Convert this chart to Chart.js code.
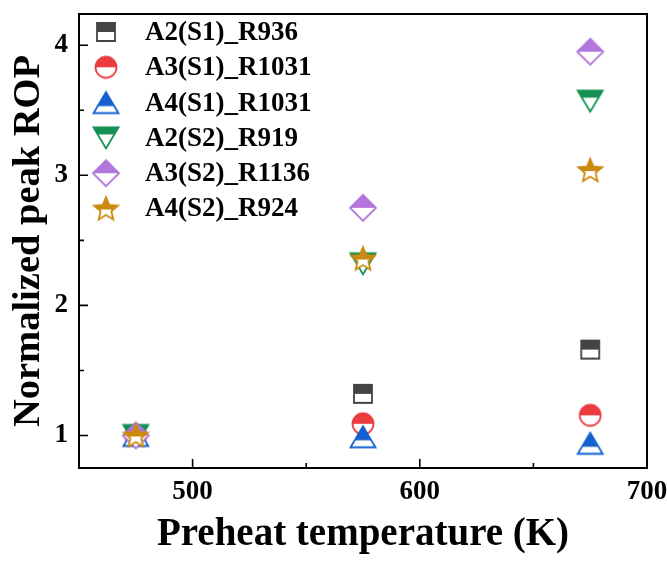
<!DOCTYPE html>
<html>
<head>
<meta charset="utf-8">
<script src="https://cdn.jsdelivr.net/npm/chart.js@4.4.1/dist/chart.umd.min.js"></script>
<style>
  html, body { margin:0; padding:0; background:#fff; }
  #wrap { width:667px; height:561px; }
</style>
</head>
<body>
<div id="wrap"><canvas id="rop" width="667" height="561"></canvas></div>
<script>
const temps = [475, 575, 675];
const seriesNames = ['A2(S1)_R936', 'A3(S1)_R1031', 'A4(S1)_R1031', 'A2(S2)_R919', 'A3(S2)_R1136', 'A4(S2)_R924'];
const ropA2S1 = [1.00, 1.32, 1.66];
const ropA3S1 = [1.00, 1.09, 1.155];
const ropA4S1 = [1.00, 0.99, 0.94];
const ropA2S2 = [1.00, 2.32, 3.57];
const ropA3S2 = [1.00, 2.75, 3.95];
const ropA4S2 = [1.00, 2.36, 3.04];
const xTicks = [500, 600, 700];
const xMinor = [550, 650];
const yTicks = [1, 2, 3, 4];
const yMinor = [1.5, 2.5, 3.5];

const serif = '"Liberation Serif", "Times New Roman", serif';

// half filled marker: top part in colour, bottom part white, colour outline
function marker(shape, color) {
  const c = document.createElement('canvas');
  c.width = 30; c.height = 30;
  const ctx = c.getContext('2d');
  const cx = 15, cy = 15;
  let split = cy;
  const path = () => {
    ctx.beginPath();
    if (shape === 'square') {
      ctx.rect(cx - 9, cy - 9, 18, 18);
    } else if (shape === 'circle') {
      ctx.arc(cx, cy, 10.5, 0, Math.PI * 2);
    } else if (shape === 'up') {
      ctx.moveTo(cx, cy - 10.5); ctx.lineTo(cx + 12.5, cy + 10.5); ctx.lineTo(cx - 12.5, cy + 10.5); ctx.closePath();
    } else if (shape === 'down') {
      ctx.moveTo(cx - 12.5, cy - 10.5); ctx.lineTo(cx + 12.5, cy - 10.5); ctx.lineTo(cx, cy + 10.5); ctx.closePath();
    } else if (shape === 'diamond') {
      ctx.moveTo(cx, cy - 13); ctx.lineTo(cx + 13, cy); ctx.lineTo(cx, cy + 13); ctx.lineTo(cx - 13, cy); ctx.closePath();
    } else if (shape === 'star') {
      for (let k = 0; k < 10; k++) {
        const r = k % 2 ? 5.6 : 12.5;
        const a = -Math.PI / 2 + k * Math.PI / 5;
        const px = cx + r * Math.cos(a), py = cy + 1 + r * Math.sin(a);
        k ? ctx.lineTo(px, py) : ctx.moveTo(px, py);
      }
      ctx.closePath();
    }
  };
  if (shape === 'up') split = cy + 10.5 / 3;
  if (shape === 'down') split = cy - 10.5 / 3;
  if (shape === 'star') split = cy + 1;
  path(); ctx.fillStyle = '#fff'; ctx.fill();
  ctx.save();
  ctx.beginPath(); ctx.rect(0, 0, 30, split); ctx.clip();
  path(); ctx.fillStyle = color; ctx.fill();
  ctx.restore();
  path(); ctx.strokeStyle = color; ctx.lineWidth = 1.8; ctx.lineJoin = 'miter'; ctx.stroke();
  return c;
}

const styles = [
  marker('square', '#444444'),
  marker('circle', '#eb3b3f'),
  marker('up', '#1560d0'),
  marker('down', '#149152'),
  marker('diamond', '#b276dc'),
  marker('star', '#cc8a10')
];
const values = [ropA2S1, ropA3S1, ropA4S1, ropA2S2, ropA3S2, ropA4S2];

const datasets = seriesNames.map((name, i) => ({
  label: name,
  data: temps.map((t, j) => ({ x: t, y: values[i][j] })),
  pointStyle: styles[i],
  pointRadius: 12,
  showLine: false,
  order: seriesNames.length - 1 - i
}));

// frame round the plot plus inward major/minor ticks on the left and bottom axes
const frame = {
  id: 'frame',
  beforeDatasetsDraw(chart) {
    const { ctx, chartArea: a, scales: { x, y } } = chart;
    ctx.save();
    ctx.strokeStyle = '#000';
    ctx.lineWidth = 2;
    ctx.strokeRect(a.left, a.top, a.right - a.left, a.bottom - a.top);
    ctx.beginPath();
    yTicks.forEach(v => { const p = y.getPixelForValue(v); ctx.moveTo(a.left, p); ctx.lineTo(a.left + 9, p); });
    yMinor.forEach(v => { const p = y.getPixelForValue(v); ctx.moveTo(a.left, p); ctx.lineTo(a.left + 5, p); });
    xTicks.forEach(v => { const p = x.getPixelForValue(v); ctx.moveTo(p, a.bottom); ctx.lineTo(p, a.bottom - 9); });
    xMinor.forEach(v => { const p = x.getPixelForValue(v); ctx.moveTo(p, a.bottom); ctx.lineTo(p, a.bottom - 5); });
    ctx.lineWidth = 1.6;
    ctx.stroke();
    ctx.restore();
  }
};

const legendBox = {
  id: 'legendBox',
  afterDraw(chart) {
    const { ctx } = chart;
    ctx.save();
    ctx.font = 'bold 27px ' + serif;
    ctx.fillStyle = '#000';
    ctx.textBaseline = 'middle';
    seriesNames.forEach((name, i) => {
      const yy = 32 + i * 35.3;
      ctx.drawImage(styles[i], 106 - 15, yy - 15);
      ctx.fillText(name, 145, yy + 1);
    });
    ctx.restore();
  }
};

new Chart(document.getElementById('rop'), {
  type: 'scatter',
  data: { datasets },
  options: {
    responsive: false,
    animation: false,
    events: [],
    layout: { padding: { left: 0, right: 20, top: 14, bottom: 0 } },
    plugins: { legend: { display: false }, tooltip: { enabled: false } },
    scales: {
      x: {
        type: 'linear', min: 450, max: 700,
        afterFit: s => { s.height = 93; s.paddingLeft = 0; s.paddingRight = 0; },
        afterBuildTicks: s => { s.ticks = xTicks.map(v => ({ value: v })); },
        grid: { display: false, drawTicks: false },
        border: { display: false },
        ticks: { color: '#000', padding: 8, maxRotation: 0, font: { family: serif, size: 27, weight: 'bold' } },
        title: { display: true, text: 'Preheat temperature (K)', color: '#000', padding: { bottom: 7 },
                 font: { family: serif, size: 39, weight: 'bold', lineHeight: 1 } }
      },
      y: {
        type: 'linear', min: 0.75, max: 4.24,
        afterFit: s => { s.width = 79; s.paddingTop = 0; s.paddingBottom = 0; },
        afterBuildTicks: s => { s.ticks = yTicks.map(v => ({ value: v })); },
        grid: { display: false, drawTicks: false },
        border: { display: false },
        ticks: { color: '#000', padding: 11, font: { family: serif, size: 27, weight: 'bold' } },
        title: { display: true, text: 'Normalized peak ROP', color: '#000', padding: { top: 10 },
                 font: { family: serif, size: 38.5, weight: 'bold', lineHeight: 1 } }
      }
    }
  },
  plugins: [frame, legendBox]
});
</script>
</body>
</html>
